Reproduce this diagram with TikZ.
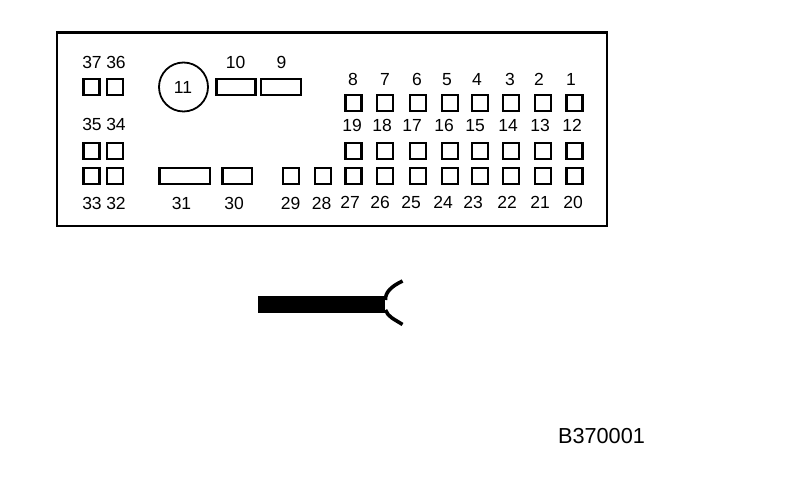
\documentclass[tikz,border=0pt]{standalone}
\usepackage{fontspec}
\setmainfont{Liberation Sans}
\tikzset{
	pinbox/.style={draw,line width=2.2pt,inner sep=0pt,minimum width=16pt,minimum height=16pt},
	widebox/.style={pinbox,minimum width=#1},
	pinlabel/.style={inner sep=0pt,text height=12.5pt,text depth=0pt,font=\fontsize{17.5}{18}\selectfont}
}
\begin{document}
\begin{tikzpicture}[x=1pt,y=-1pt]
	\useasboundingbox (0,0) rectangle (800,502);
\node [draw,line width=2.2pt,inner sep=0pt,minimum width=550pt,minimum height=193.5pt] (frame) at (332,129.2) {};
\node [pinbox] (p37) at (91.5,87) {};
\node [pinbox] (p36) at (115,87) {};
\node [pinbox] (p35) at (91.5,151) {};
\node [pinbox] (p34) at (115,151) {};
\node [pinbox] (p33) at (91.5,176.3) {};
\node [pinbox] (p32) at (115,176.3) {};
\node [draw,circle,line width=1.8pt,inner sep=0pt,minimum size=49pt] (p11) at (183.5,87) {};
\node [widebox=39pt] (p10) at (236,87) {};
\node [widebox=40pt] (p9) at (281.3,87) {};
\node [widebox=50.5pt] (p31) at (184.7,176.3) {};
\node [widebox=29.5pt] (p30) at (237.2,176.3) {};
\node [pinbox] (p29) at (291.3,176.3) {};
\node [pinbox] (p28) at (323,176.3) {};
\node [pinbox] (p8) at (353.5,103) {};
\node [pinbox] (p7) at (385,103) {};
\node [pinbox] (p6) at (417.7,103) {};
\node [pinbox] (p5) at (450,103) {};
\node [pinbox] (p4) at (480,103) {};
\node [pinbox] (p3) at (511,103) {};
\node [pinbox] (p2) at (543,103) {};
\node [pinbox] (p1) at (574.5,103) {};
\node [pinbox] (p19) at (353.5,151) {};
\node [pinbox] (p18) at (385,151) {};
\node [pinbox] (p17) at (417.7,151) {};
\node [pinbox] (p16) at (450,151) {};
\node [pinbox] (p15) at (480,151) {};
\node [pinbox] (p14) at (511,151) {};
\node [pinbox] (p13) at (543,151) {};
\node [pinbox] (p12) at (574.5,151) {};
\node [pinbox] (p27) at (353.5,176.3) {};
\node [pinbox] (p26) at (385,176.3) {};
\node [pinbox] (p25) at (417.7,176.3) {};
\node [pinbox] (p24) at (450,176.3) {};
\node [pinbox] (p23) at (480,176.3) {};
\node [pinbox] (p22) at (511,176.3) {};
\node [pinbox] (p21) at (543,176.3) {};
\node [pinbox] (p20) at (574.5,176.3) {};
\node [pinlabel] (l37) at (92,62) {37};
\node [pinlabel] (l36) at (116,62) {36};
\node [pinlabel] (l35) at (92,124) {35};
\node [pinlabel] (l34) at (116,124) {34};
\node [pinlabel] (l33) at (92,203) {33};
\node [pinlabel] (l32) at (116,203) {32};
\node [pinlabel] (l11) at (183,87) {11};
\node [pinlabel] (l10) at (235.5,62) {10};
\node [pinlabel] (l9) at (281.5,62) {9};
\node [pinlabel] (l31) at (181.5,203) {31};
\node [pinlabel] (l30) at (234,203) {30};
\node [pinlabel] (l29) at (290.7,203) {29};
\node [pinlabel] (l28) at (321.7,203) {28};
\node [pinlabel] (l8) at (353,79) {8};
\node [pinlabel] (l7) at (385,79) {7};
\node [pinlabel] (l6) at (417,79) {6};
\node [pinlabel] (l5) at (447,79) {5};
\node [pinlabel] (l4) at (477,79) {4};
\node [pinlabel] (l3) at (510,79) {3};
\node [pinlabel] (l2) at (539,79) {2};
\node [pinlabel] (l1) at (571,79) {1};
\node [pinlabel] (l19) at (352,125) {19};
\node [pinlabel] (l18) at (382,125) {18};
\node [pinlabel] (l17) at (412,125) {17};
\node [pinlabel] (l16) at (444,125) {16};
\node [pinlabel] (l15) at (475,125) {15};
\node [pinlabel] (l14) at (508,125) {14};
\node [pinlabel] (l13) at (540,125) {13};
\node [pinlabel] (l12) at (572,125) {12};
\node [pinlabel] (l27) at (350,202.5) {27};
\node [pinlabel] (l26) at (380,202.5) {26};
\node [pinlabel] (l25) at (411,202.5) {25};
\node [pinlabel] (l24) at (443,202.5) {24};
\node [pinlabel] (l23) at (473,202.5) {23};
\node [pinlabel] (l22) at (507,202.5) {22};
\node [pinlabel] (l21) at (540,202.5) {21};
\node [pinlabel] (l20) at (573,202.5) {20};
\fill (258,296) rectangle (385,313);
\draw [line width=3.6pt] (402.5,281) .. controls (392,286) and (385,292) .. (385.5,300);
\draw [line width=3.6pt] (385.5,310) .. controls (388,317) and (394,319) .. (402.5,324.5);
\node [inner sep=0pt,font=\fontsize{21.7}{22}\selectfont] (code) at (601.5,436.5) {B370001};
	\end{tikzpicture}
\end{document}
